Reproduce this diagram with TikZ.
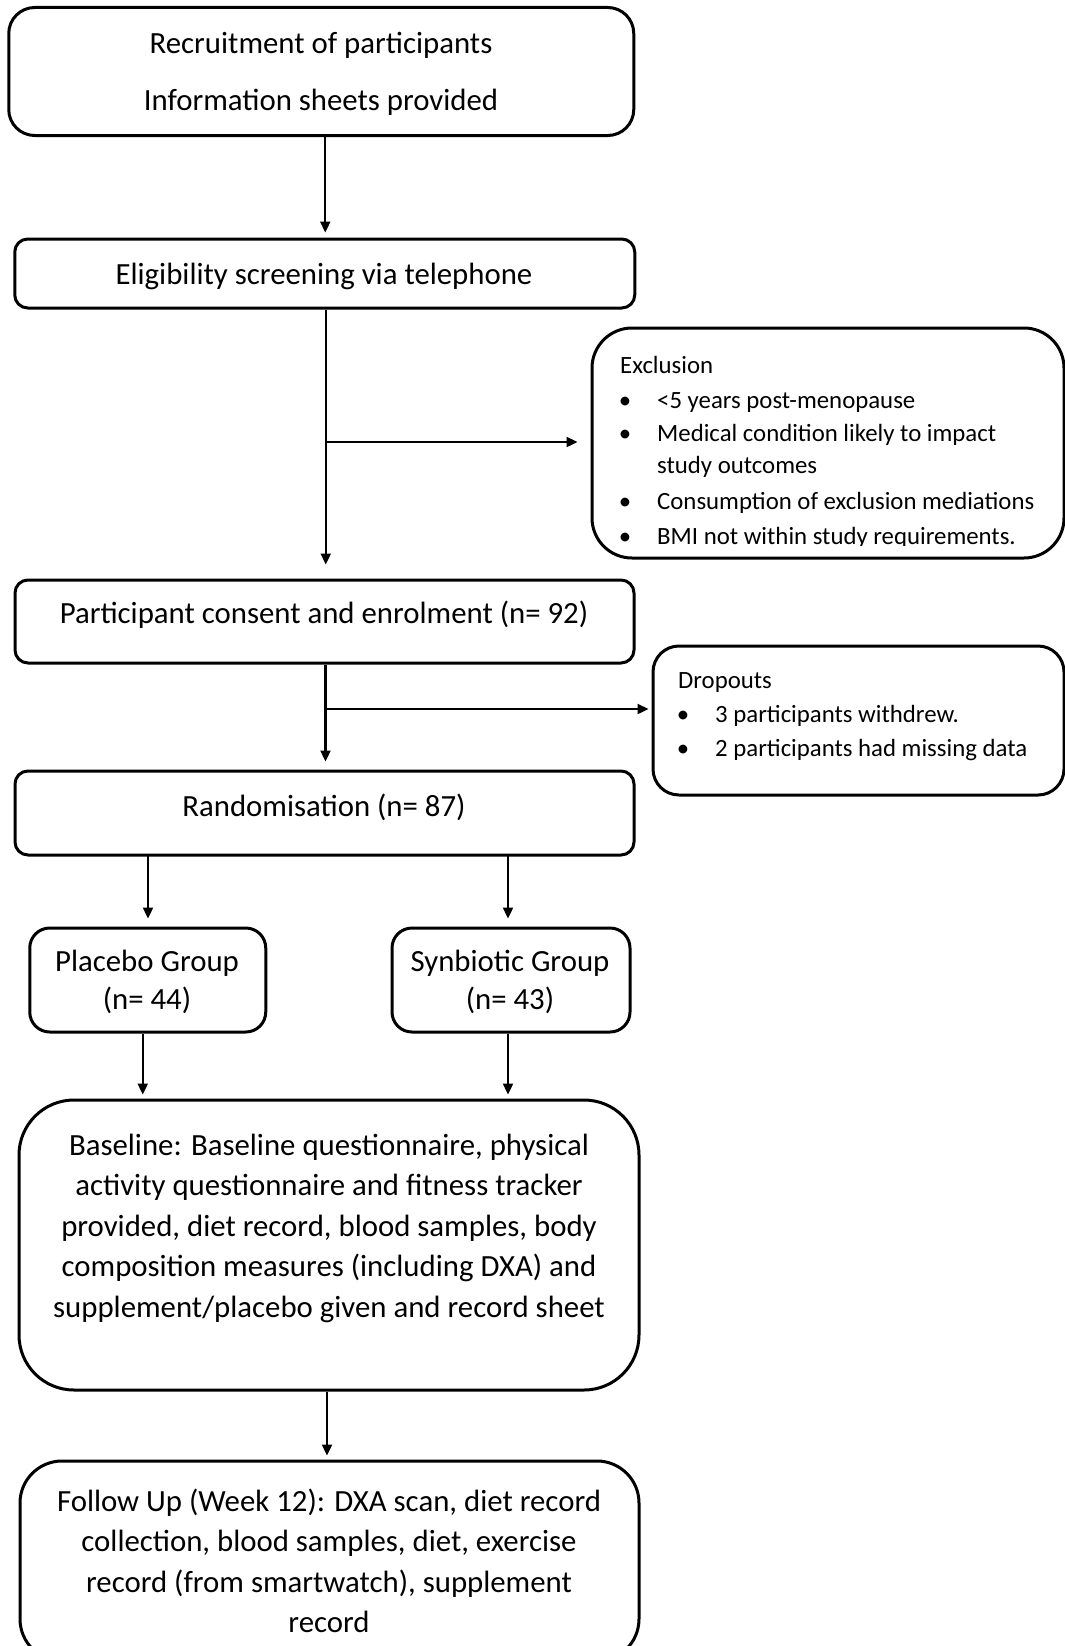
\documentclass[tikz,border=0pt]{standalone}
\usepackage{fontspec}
\setmainfont{Carlito}
\usetikzlibrary{arrows.meta}
\begin{document}
\begin{tikzpicture}[x=1pt,y=-1pt,
  box/.style={draw, line width=3pt, rounded corners=#1, inner sep=0pt},
  box/.default=14pt,
  big/.style={font=\fontsize{30.8}{40.5}\selectfont, align=center, inner sep=0pt},
  grp/.style={font=\fontsize{30.8}{38}\selectfont, align=center, inner sep=0pt},
  small/.style={font=\fontsize{24.8}{32}\selectfont, anchor=base west, inner sep=0pt},
  bul/.style={font=\fontsize{24.8}{32}\selectfont, anchor=base, inner sep=0pt},
  arr/.style={line width=2.3pt, -{Triangle[length=11pt,width=10pt]}},
]
\useasboundingbox (0,0) rectangle (1065,1646);
\clip (0,0) rectangle (1065,1646);

% boxes
\node[box=26pt, minimum width=625pt, minimum height=128pt] (rec) at (321.25,71.5) {};
\node[big] (recT) at (321,74) {Recruitment of participants\\[16.5pt]Information sheets provided};

\node[box=13pt, minimum width=620pt, minimum height=69pt] (elig) at (324.75,273.5) {};
\node[big] (eligT) at (324,276) {Eligibility screening via telephone};

\node[box=40pt, minimum width=472pt, minimum height=230pt] (excl) at (828,443) {};

\node[box=13pt, minimum width=619pt, minimum height=83pt] (cons) at (324.5,621.5) {};
\node[big] (consT) at (324,615) {Participant consent and enrolment (n= 92)};

\node[box=13pt, minimum width=619pt, minimum height=84pt] (rand) at (324.5,813) {};
\node[big] (randT) at (324,807) {Randomisation (n= 87)};

\node[box=26pt, minimum width=411pt, minimum height=149pt] (drop) at (858.5,720.5) {};

\node[box=20pt, minimum width=236pt, minimum height=104pt] (plac) at (147.75,980) {};
\node[grp] (placT) at (147,982) {Placebo Group\\(n= 44)};

\node[box=20pt, minimum width=238pt, minimum height=104pt] (syn) at (511,980) {};
\node[grp] (synT) at (510,982) {Synbiotic Group\\(n= 43)};

\node[box=55pt, minimum width=620pt, minimum height=290pt] (base) at (329,1245) {};
\node[big] (baseT) at (329,1228) {Baseline: Baseline questionnaire, physical\\activity questionnaire and fitness tracker\\provided, diet record, blood samples, body\\composition measures (including DXA) and\\supplement/placebo given and record sheet};

\node[box=42pt, minimum width=619pt, minimum height=200pt] (foll) at (329.5,1561) {};
\node[big] (follT) at (329,1561) {Follow Up (Week 12): DXA scan, diet record\\collection, blood samples, diet, exercise\\record (from smartwatch), supplement\\record};

% exclusion text
\node[small] (exH) at (620,373) {Exclusion};
\node[bul] (exB1) at (625,408) {\textbullet};
\node[small] (exL1) at (657,408) {<5 years post-menopause};
\node[bul] (exB2) at (625,441) {\textbullet};
\node[small] (exL2) at (657,441) {Medical condition likely to impact};
\node[small] (exL2b) at (657,473) {study outcomes};
\node[bul] (exB3) at (625,509) {\textbullet};
\node[small] (exL3) at (657,509) {Consumption of exclusion mediations};
\begin{scope}
\clip (600,520) rectangle (1060,545);
\node[bul] (exB4) at (625,544) {\textbullet};
\node[small] (exL4) at (657,544) {BMI not within study requirements.};
\end{scope}

% dropouts text
\node[small] (drH) at (678,688) {Dropouts};
\node[bul] (drB1) at (683,722) {\textbullet};
\node[small] (drL1) at (715,722) {3 participants withdrew.};
\node[bul] (drB2) at (683,756) {\textbullet};
\node[small] (drL2) at (715,756) {2 participants had missing data};

% connectors
\draw[arr, shorten >=5pt] ([xshift=4pt]rec.south) -- ([xshift=4pt]rec.south |- elig.north);
\draw[arr, shorten >=14pt] ([xshift=1pt]elig.south) -- ([xshift=1pt]elig.south |- cons.north);
\coordinate (b1) at (326,442);
\draw[arr, shorten >=13pt] (b1) -- (b1 -| excl.west);
\draw[arr, shorten >=8pt] ([xshift=1pt]cons.south) -- ([xshift=1pt]cons.south |- rand.north);
\coordinate (b2) at (326,709);
\draw[arr, shorten >=3pt] (b2) -- (b2 -| drop.west);
\coordinate (r1) at (148,855);
\coordinate (r2) at (508,855);
\draw[arr, shorten >=8pt] (r1) -- (r1 |- plac.north);
\draw[arr, shorten >=8pt] (r2) -- (r2 |- syn.north);
\draw[arr, shorten >=4pt] ([xshift=-5pt]plac.south) -- ([xshift=-5pt]plac.south |- base.north);
\draw[arr, shorten >=4pt] ([xshift=-3pt]syn.south) -- ([xshift=-3pt]syn.south |- base.north);
\draw[arr, shorten >=4pt] ([xshift=-2pt]base.south) -- ([xshift=-2pt]base.south |- foll.north);
\end{tikzpicture}
\end{document}
